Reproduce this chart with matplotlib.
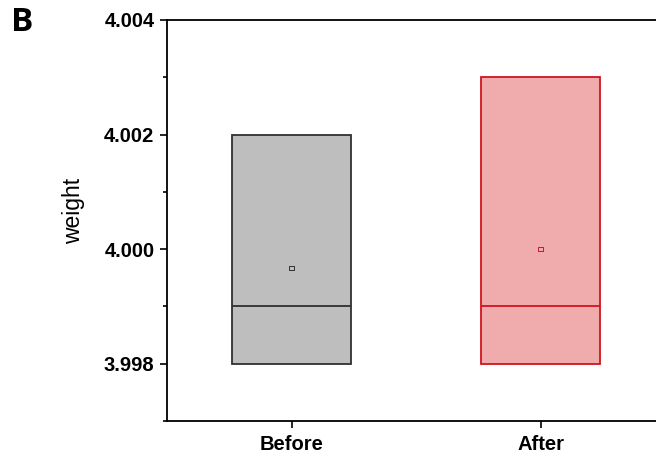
import matplotlib.pyplot as plt
from matplotlib.ticker import MultipleLocator

plt.rcParams['font.family'] = ['Liberation Sans', 'DejaVu Sans']

groups = ['Before', 'After']
q1 = [3.998, 3.998]
q3 = [4.002, 4.003]
medians = [3.999, 3.999]
means = [3.99967, 4.000]
fill_colors = ['#bebebe', '#f0acac']
edge_colors = ['#303030', '#d2141c']

fig = plt.figure(figsize=(6.56, 4.59), dpi=100)
ax = fig.add_axes([167 / 656, 1 - 421 / 459, 498 / 656, 401 / 459])

pos = [1, 2]
width = 0.48
for i in range(len(groups)):
    ax.bar(pos[i], q3[i] - q1[i], bottom=q1[i], width=width,
           color=fill_colors[i], edgecolor=edge_colors[i], linewidth=1.3, zorder=2)
    ax.hlines(medians[i], pos[i] - width / 2, pos[i] + width / 2,
              color=edge_colors[i], linewidth=1.3, zorder=3)
    ax.scatter(pos[i], means[i], marker='s', s=9, facecolor='none',
               edgecolor=edge_colors[i], linewidth=0.7, zorder=4)

ax.set_xlim(0.5, 2.5)
ax.set_ylim(3.997, 4.004)
ax.set_xticks(pos)
ax.set_xticklabels(groups, fontsize=14.5, fontweight='bold')
ax.yaxis.set_major_locator(MultipleLocator(0.002))
ax.yaxis.set_minor_locator(MultipleLocator(0.001))
ax.yaxis.set_major_formatter(plt.FormatStrFormatter('%.3f'))
for lab in ax.get_yticklabels():
    lab.set_fontsize(14.5)
    lab.set_fontweight('bold')
ax.tick_params(axis='both', which='major', direction='out', length=5, width=1.2)
ax.tick_params(axis='y', which='minor', direction='out', length=3, width=1.2)
ax.tick_params(axis='x', pad=5)
ax.tick_params(axis='y', pad=4)
for s in ax.spines.values():
    s.set_linewidth(1.3)
ax.set_ylabel('weight', fontsize=16.5)
ax.yaxis.set_label_coords(-0.165, 0.524)

fig.text(11 / 656, 1 - 31 / 459, 'B', fontsize=24, fontweight='bold',
         family=['Open Sans', 'DejaVu Sans'])

fig.savefig('out.png', dpi=100)
